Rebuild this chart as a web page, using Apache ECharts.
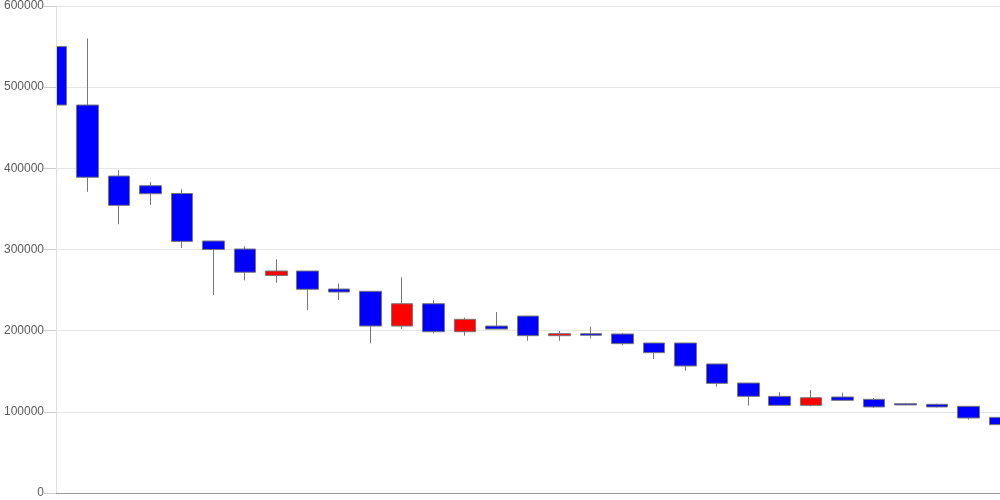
<!DOCTYPE html>
<html>
<head>
<meta charset="utf-8">
<script src="https://cdn.jsdelivr.net/npm/echarts@6/dist/echarts.min.js"></script>
<style>html,body{margin:0;padding:0;background:#fff}#c{width:1000px;height:500px}</style>
</head>
<body>
<div id="c"></div>
<script>
const categories = ['1','2','3','4','5','6','7','8','9','10','11','12','13','14','15','16','17','18','19','20','21','22','23','24','25','26','27','28','29','30','31'];
const opens  = [550000,478000,390500,378600,369000,310500,300600,268000,273500,251300,248500,205700,233200,198700,205700,218000,193800,196300,195900,184800,184800,159000,135500,119100,108000,118300,115400,110000,109300,106800,93200];
const closes = [478000,389000,354400,368700,310000,300000,272000,273500,251000,247600,205700,233200,198700,214000,202000,193800,196300,194300,184000,172900,156500,135100,119100,108000,117400,114200,106000,108500,106000,92400,84200];
const lows   = [478000,371000,331000,355000,302000,244000,262000,259000,225500,237800,184400,202400,196700,193800,202000,187600,187600,190600,182300,165000,150700,131000,107600,108000,106800,113300,105000,108000,105500,90300,84200];
const highs  = [550000,560000,398000,383000,374000,310500,304000,288000,273500,258000,248500,265700,237800,216000,223000,218000,199600,205000,197000,184800,184800,159000,135500,124000,126900,123600,117000,111000,110000,106800,93200];
const yTicks = [0,100000,200000,300000,400000,500000,600000];

const data = categories.map((c,i)=>[opens[i],closes[i],lows[i],highs[i]]);
const yMin = yTicks[0], yMax = yTicks[yTicks.length-1];
const chart = echarts.init(document.getElementById('c'));
chart.setOption({
  animation:false,
  grid:{left:56,right:0,top:6,bottom:7,containLabel:false},
  graphic:[{type:'rect',z:5,silent:true,shape:{x:0,y:0,width:56,height:500},style:{fill:'#fff'}}],
  xAxis:{type:'category',data:categories,boundaryGap:false,z:10,
    axisLine:{lineStyle:{color:'#999'}},axisTick:{show:false},axisLabel:{show:false},splitLine:{show:false}},
  yAxis:[
    {type:'value',position:'left',min:yMin,max:yMax,interval:100000,z:0,
     axisLine:{show:false},axisTick:{show:false},axisLabel:{show:false},
     splitLine:{lineStyle:{color:'#e6e6e6'}}},
    {type:'value',position:'left',offset:0,min:yMin,max:yMax,interval:100000,z:10,
     axisLine:{show:true,lineStyle:{color:'#ddd'}},
     axisTick:{show:true,length:12,lineStyle:{color:'#ccc'}},
     axisLabel:{margin:12,color:'#5a5a5a',fontSize:12,fontFamily:'Arial, Liberation Sans, sans-serif',formatter:v=>String(v)},
     splitLine:{show:false}}
  ],
  series:[{type:'candlestick',data:data,yAxisIndex:0,barWidth:22,clip:true,z:2,
    itemStyle:{color:'#ff0000',color0:'#0000ff',borderColor:'#777',borderColor0:'#777',borderColorDoji:'#777',borderWidth:1}}]
});
</script>
</body>
</html>
